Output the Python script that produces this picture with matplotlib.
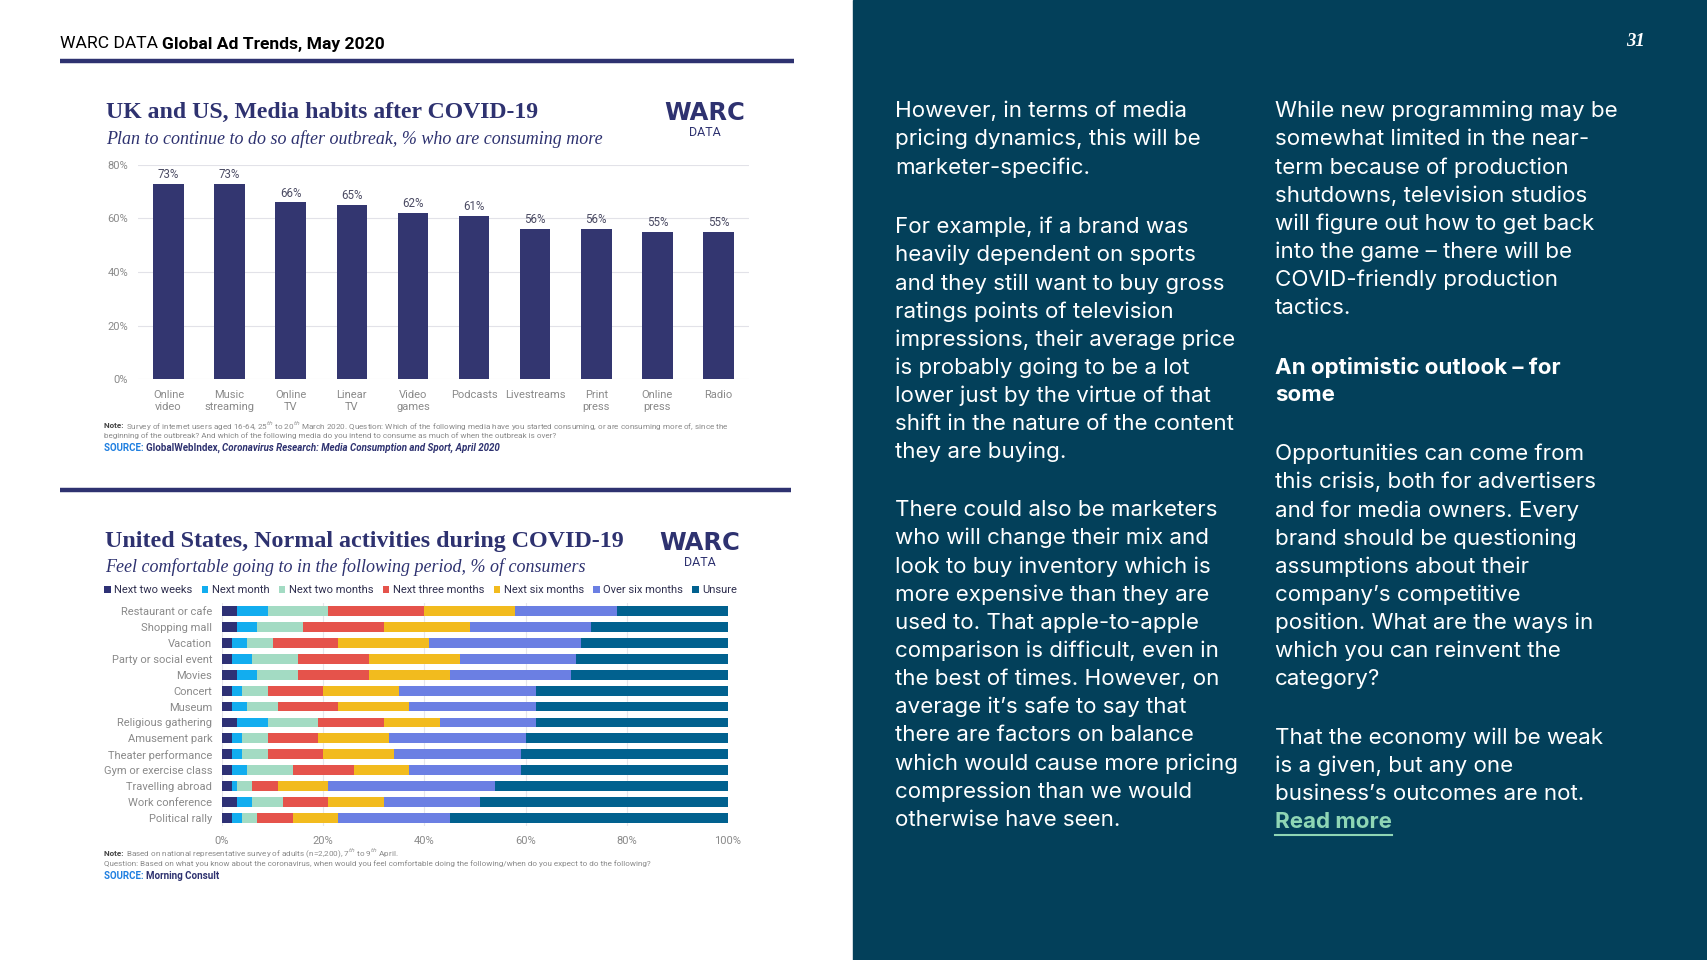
import numpy as np
import matplotlib.pyplot as plt
from matplotlib.patches import Rectangle

W, H = 1707, 960

# --- chart 1: UK and US media habits ---
media = ["Online\nvideo", "Music\nstreaming", "Online\nTV", "Linear\nTV", "Video\ngames",
         "Podcasts", "Livestreams", "Print\npress", "Online\npress", "Radio"]
media_share = [73, 73, 66, 65, 62, 61, 56, 56, 55, 55]

# --- chart 2: US normal activities ---
activities = ["Restaurant or cafe", "Shopping mall", "Vacation", "Party or social event", "Movies",
              "Concert", "Museum", "Religious gathering", "Amusement park", "Theater performance",
              "Gym or exercise class", "Travelling abroad", "Work conference", "Political rally"]
period_names = ["Next two weeks", "Next month", "Next two months", "Next three months",
                "Next six months", "Over six months", "Unsure"]
next_two_weeks = [3, 3, 2, 2, 3, 2, 2, 3, 2, 2, 2, 2, 3, 2]
next_month = [6, 4, 3, 4, 4, 2, 3, 6, 2, 2, 3, 1, 3, 2]
next_two_months = [12, 9, 5, 9, 8, 5, 6, 10, 5, 5, 9, 3, 6, 3]
next_three_months = [19, 16, 13, 14, 14, 11, 12, 13, 10, 11, 12, 5, 9, 7]
next_six_months = [18, 17, 18, 18, 16, 15, 14, 11, 14, 14, 11, 10, 11, 9]
over_six_months = [20, 24, 30, 23, 24, 27, 25, 19, 27, 25, 22, 33, 19, 22]
unsure = [22, 27, 29, 30, 31, 38, 38, 38, 40, 41, 41, 46, 49, 55]
period_colors = ["#2e3175", "#12adef", "#a3dbc3", "#e5534b", "#f2bb1e", "#6b7fe3", "#01618f"]

# --- right hand text ---
col1_paras = [
    ["However, in terms of media", "pricing dynamics, this will be", "marketer-specific."],
    ["For example, if a brand was", "heavily dependent on sports", "and they still want to buy gross",
     "ratings points of television", "impressions, their average price", "is probably going to be a lot",
     "lower just by the virtue of that", "shift in the nature of the content", "they are buying."],
    ["There could also be marketers", "who will change their mix and", "look to buy inventory which is",
     "more expensive than they are", "used to. That apple-to-apple", "comparison is difficult, even in",
     "the best of times. However, on", "average it\u2019s safe to say that", "there are factors on balance",
     "which would cause more pricing", "compression than we would", "otherwise have seen."],
]
col2_paras = [
    ["While new programming may be", "somewhat limited in the near-", "term because of production",
     "shutdowns, television studios", "will figure out how to get back", "into the game \u2013 there will be",
     "COVID-friendly production", "tactics."],
    ["An optimistic outlook \u2013 for", "some"],
    ["Opportunities can come from", "this crisis, both for advertisers", "and for media owners. Every",
     "brand should be questioning", "assumptions about their", "company\u2019s competitive",
     "position. What are the ways in", "which you can reinvent the", "category?"],
    ["That the economy will be weak", "is a given, but any one", "business\u2019s outcomes are not."],
]

NAVY = "#2e3270"
GREY = "#8a8a8a"
PANEL = "#03405a"

fig = plt.figure(figsize=(W / 100, H / 100), dpi=100)
page = fig.add_axes([0, 0, 1, 1])
page.set_xlim(0, W)
page.set_ylim(H, 0)
page.axis("off")
page.add_patch(Rectangle((853, 0), W - 853, H, color=PANEL, zorder=0))


def box(x0, y0, x1, y1):
    return [x0 / W, 1 - y1 / H, (x1 - x0) / W, (y1 - y0) / H]


renderer = fig.canvas.get_renderer()


def runs(x, y, parts, **common):
    # place differently styled pieces of text one after another
    for txt, kw in parts:
        t = page.text(x, y, txt, va="center", ha="left", **common, **kw)
        x += t.get_window_extent(renderer=renderer).width
    return x


# header
runs(60, 44, [("WARC DATA ", {}), ("Global Ad Trends, May 2020", {"weight": "bold"})],
     fontsize=12.6, color="black", family="Roboto")
page.plot([60, 794], [61, 61], color=NAVY, lw=3.2, solid_capstyle="butt")
page.plot([60, 791], [490, 490], color=NAVY, lw=3.2, solid_capstyle="butt")
page.text(1636, 41, "31", color="white", family="Liberation Serif", style="italic",
          weight="bold", fontsize=13.5, ha="center", va="center")


def logo(cx, cy):
    page.text(cx, cy, "WARC", family="DejaVu Sans", weight="bold", fontsize=17.5, color=NAVY,
              ha="center", va="center")
    page.text(cx, cy + 20, "DATA", family="Roboto", fontsize=9, color=NAVY,
              ha="center", va="center")


# chart 1 titles
page.text(106, 112, "UK and US, Media habits after COVID-19", family="Liberation Serif",
          weight="bold", fontsize=17.1, color=NAVY, va="center")
page.text(106, 139, "Plan to continue to do so after outbreak, % who are consuming more",
          family="Liberation Serif", style="italic", fontsize=13.0, color=NAVY, va="center")
logo(705, 113)

ax1 = fig.add_axes(box(138, 165, 749, 379))
x = np.arange(len(media))
bars = ax1.bar(x, media_share, width=0.5, color="#333670", zorder=3)
ax1.bar_label(bars, labels=[f"{v}%" for v in media_share], padding=2, fontsize=8.3,
              color="#4b4b63", family="Roboto")
ax1.set_xlim(-0.5, len(media) - 0.5)
ax1.set_ylim(0, 80)
ax1.set_yticks([0, 20, 40, 60, 80])
ax1.set_yticklabels([f"{v}%" for v in [0, 20, 40, 60, 80]])
ax1.set_xticks(x)
ax1.set_xticklabels(media)
ax1.grid(axis="y", color="#e2e2e8", lw=0.8, zorder=0)
for s in ax1.spines.values():
    s.set_visible(False)
ax1.tick_params(length=0, colors=GREY, labelsize=8)
ax1.tick_params(axis="y", pad=7)
ax1.tick_params(axis="x", pad=8)
for lab in ax1.get_xticklabels() + ax1.get_yticklabels():
    lab.set_family("Roboto")

runs(104, 426, [("Note: ", {"weight": "bold", "color": "#444444"}),
                ("Survey of internet users aged 16-64, 25$^{th}$ to 20$^{th}$ March 2020. Question: Which of the "
                 "following media have you started consuming, or are consuming more of, since the", {"color": GREY})],
     fontsize=5.9, family="Roboto")
page.text(104, 436, "beginning of the outbreak? And which of the following media do you intend to consume "
          "as much of when the outbreak is over?", fontsize=5.9, family="Roboto", color=GREY, va="center")
runs(104, 448, [("SOURCE: ", {"color": "#1f7fe0"}),
                ("GlobalWebIndex, ", {"color": NAVY}),
                ("Coronavirus Research: Media Consumption and Sport, April 2020", {"color": NAVY, "style": "italic"})],
     fontsize=7, family="Roboto", weight="bold")

# chart 2 titles
page.text(105, 541, "United States, Normal activities during COVID-19", family="Liberation Serif",
          weight="bold", fontsize=17.3, color=NAVY, va="center")
page.text(105, 567, "Feel comfortable going to in the following period, % of consumers",
          family="Liberation Serif", style="italic", fontsize=13, color=NAVY, va="center")
logo(700, 543)

ax2 = fig.add_axes(box(222, 603, 728, 826))
series = [next_two_weeks, next_month, next_two_months, next_three_months,
          next_six_months, over_six_months, unsure]
y = np.arange(len(activities))
left = np.zeros(len(activities))
handles = []
for name, vals, c in zip(period_names, series, period_colors):
    h = ax2.barh(y, vals, left=left, height=0.62, color=c, label=name, zorder=3)
    handles.append(h)
    left += np.array(vals)
ax2.set_ylim(len(activities) - 0.5, -0.5)
ax2.set_xlim(0, 100)
ax2.set_xticks([0, 20, 40, 60, 80, 100])
ax2.set_xticklabels([f"{v}%" for v in [0, 20, 40, 60, 80, 100]])
ax2.set_yticks(y)
ax2.set_yticklabels(activities)
ax2.grid(axis="x", color="#e6e6ec", lw=0.8, zorder=0)
for s in ax2.spines.values():
    s.set_visible(False)
ax2.tick_params(length=0, colors=GREY, labelsize=8)
ax2.tick_params(axis="y", pad=7)
ax2.tick_params(axis="x", pad=7)
for lab in ax2.get_xticklabels() + ax2.get_yticklabels():
    lab.set_family("Roboto")

leg = fig.legend(handles, period_names, loc="center left", bbox_to_anchor=(104 / W, 1 - 590 / H),
                 ncol=7, frameon=False, handlelength=0.6, handleheight=0.6, handletextpad=0.3,
                 columnspacing=0.85, borderaxespad=0, borderpad=0,
                 prop={"family": "Roboto", "size": 8})
for t in leg.get_texts():
    t.set_color("#2f2f4f")

runs(104, 853, [("Note: ", {"weight": "bold", "color": "#444444"}),
                ("Based on national representative survey of adults (n=2,200), 7$^{th}$ to 9$^{th}$ April.",
                 {"color": GREY})], fontsize=5.9, family="Roboto")
page.text(104, 864, "Question: Based on what you know about the coronavirus, when would you feel comfortable "
          "doing the following/when do you expect to do the following?", fontsize=5.9, family="Roboto",
          color=GREY, va="center")
runs(104, 876, [("SOURCE: ", {"color": "#1f7fe0"}), ("Morning Consult", {"color": NAVY})],
     fontsize=7, family="Roboto", weight="bold")

# right hand column text
LH = 28.14
BODY = dict(family="Inter", fontsize=16.1, color="white", va="center", ha="left")


def column(x, tops, paras, bold_para=None):
    for i, (top, lines) in enumerate(zip(tops, paras)):
        for j, line in enumerate(lines):
            kw = dict(BODY)
            if i == bold_para:
                kw["weight"] = "bold"
            page.text(x, top + j * LH, line, **kw)


column(895, [111, 227, 510], col1_paras)
column(1275, [111, 367, 454, 738], col2_paras, bold_para=1)

rm = page.text(1275, 738 + 3 * LH, "Read more", family="Inter", fontsize=16.1, weight="bold",
               color="#8fd6b5", va="center", ha="left")
rw = rm.get_window_extent(renderer=renderer).width
page.plot([1275, 1275 + rw], [738 + 3 * LH + 13, 738 + 3 * LH + 13], color="#8fd6b5", lw=1.5)

fig.savefig("out.png", dpi=100)
